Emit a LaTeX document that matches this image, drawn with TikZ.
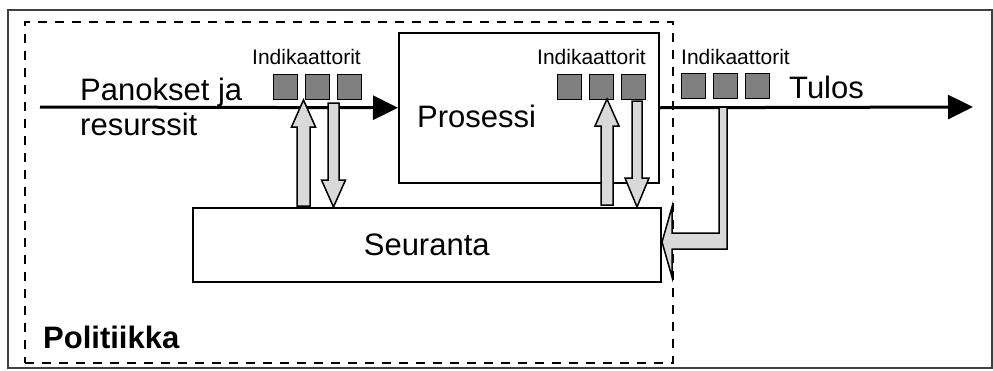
\documentclass[tikz,border=0pt]{standalone}
\usepackage{fontspec}
\setmainfont{Liberation Sans}
\usetikzlibrary{arrows.meta}
\definecolor{indgray}{HTML}{808080}
\definecolor{arrgray}{HTML}{D9D9D9}
\begin{document}
\begin{tikzpicture}[x=1pt,y=-1pt,
  box/.style={draw,line width=1.5pt,fill=white,inner sep=0,anchor=north west},
  ind/.style={draw,line width=1.3pt,fill=indgray,minimum width=24pt,minimum height=25pt,inner sep=0,anchor=north west},
  blk/.style={draw,line width=1.5pt,fill=arrgray,line join=miter},
  big/.style={font=\fontsize{31}{36}\selectfont,inner sep=0},
  small/.style={font=\fontsize{21}{24}\selectfont,inner sep=0,anchor=base west},
  flow/.style={line width=3pt,-{Triangle[length=25pt,width=24pt]}}
]
\useasboundingbox (0,0) rectangle (993,370);
\node[draw,line width=1.6pt,color=black!75,minimum width=984pt,minimum height=358pt,inner sep=0,anchor=north west] (frame) at (7,9) {};
\node[draw,line width=2.4pt,dash pattern=on 9pt off 8pt,minimum width=648pt,minimum height=341pt,inner sep=0,anchor=north west] (pol) at (24,21) {};
\node[box,minimum width=260pt,minimum height=150pt] (proc) at (398,32) {};
\node[box,minimum width=468pt,minimum height=74pt,big] (seur) at (192,207) {Seuranta};
\node[big,anchor=base west] (proclbl) at (417,127) {Prosessi};
\node[big,anchor=base west] (pan1) at (80,100) {Panokset ja};
\node[big,anchor=base west] (pan2) at (80,135) {resurssit};
\node[big,anchor=base west] (tulos) at (789,98) {Tulos};
\node[big,anchor=base west,font=\fontsize{31}{36}\selectfont\bfseries] (polit) at (43,348) {Politiikka};
% flow lines
\coordinate (start) at (40,107);
\coordinate (end) at (973,107);
\draw[flow] (start) -- (proc.west);
\draw[flow] (proc.east) -- (end);
% indicators
\node[small] (i1) at (252,64) {Indikaattorit};
\node[small] (i2) at (537,64) {Indikaattorit};
\node[small] (i3) at (681,64) {Indikaattorit};
\node[ind] (a1) at (273,74) {};
\node[ind] (a2) at (305,74) {};
\node[ind] (a3) at (337,74) {};
\node[ind] (b1) at (557,74) {};
\node[ind] (b2) at (589,74) {};
\node[ind] (b3) at (621,74) {};
\node[ind] (c1) at (681,73) {};
\node[ind] (c2) at (713,73) {};
\node[ind] (c3) at (745,73) {};
% block arrows group 1
\draw[blk] (297,206) -- (297,127) -- (291.5,127) -- (303.5,100) -- (315.5,127) -- (310,127) -- (310,206) -- cycle;
\draw[blk] (328,103) -- (328,180) -- (321.5,180) -- (333.5,207) -- (345.5,180) -- (339,180) -- (339,103) -- cycle;
% group 2
\draw[blk] (601,205) -- (601,126) -- (595,126) -- (607,99) -- (619,126) -- (613,126) -- (613,205) -- cycle;
\draw[blk] (632,101) -- (632,178) -- (625,178) -- (637,207) -- (649,178) -- (642,178) -- (642,101) -- cycle;
% bent arrow
\draw[blk] (719,107) -- (719,233) -- (672,233) -- (672,207) -- (662,242) -- (672,277) -- (672,249) -- (727,249) -- (727,107) -- cycle;
\end{tikzpicture}
\end{document}
